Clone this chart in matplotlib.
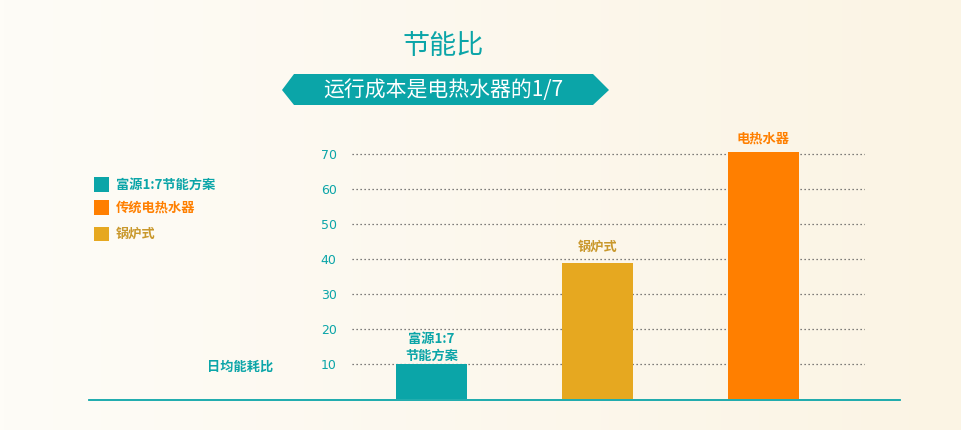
import numpy as np
import matplotlib
matplotlib.use('Agg')
import matplotlib.pyplot as plt
from matplotlib.patches import Polygon
from matplotlib.lines import Line2D

plt.rcParams['font.family'] = ['Noto Sans CJK SC', 'DejaVu Sans']

# data
categories = ['富源1:7\n节能方案', '锅炉式', '电热水器']
values = [10, 39, 70.5]
legend_names = ['富源1:7节能方案', '传统电热水器', '锅炉式']
yticks = [10, 20, 30, 40, 50, 60, 70]

teal = '#0ba5a8'
orange = '#ff7f00'
gold = '#e6a820'
goldtext = '#c9982c'
bar_colors = [teal, gold, orange]
label_colors = [teal, goldtext, orange]
legend_colors = [teal, orange, gold]
legend_text_colors = [teal, orange, goldtext]

W, H = 962, 430
fig = plt.figure(figsize=(W / 100, H / 100), dpi=100)


def px(x, y):
    return (x / W, 1 - y / H)


# cream background gradient
bg = fig.add_axes([0, 0, 1, 1], zorder=-10)
grad = np.linspace(0, 1, 256).reshape(1, -1)
c0 = np.array([254, 252, 247]) / 255
c1 = np.array([251, 244, 228]) / 255
img = c0 + (c1 - c0) * grad[..., None]
bg.imshow(img, aspect='auto', extent=[0, 1, 0, 1])
bg.axis('off')

# main axes
left, right = 352, 865
y0, ytop = 399, 399 - 75 * 3.5
ax = fig.add_axes([left / W, 1 - y0 / H, (right - left) / W, (y0 - ytop) / H])
ax.patch.set_alpha(0)
x = np.arange(len(categories))
ax.bar(x, values, width=0.425, color=bar_colors, zorder=3)
ax.set_xlim((left - 431.5) / 166, (right - 431.5) / 166)
ax.set_ylim(0, 75)
ax.set_yticks(yticks)
ax.set_yticklabels([str(t) for t in yticks], family='DejaVu Sans', fontsize=9, color=teal)
ax.tick_params(axis='y', length=0, pad=11)
ax.set_xticks([])
for s in ax.spines.values():
    s.set_visible(False)
for t in yticks:
    ax.axhline(t, color='#555555', lw=0.9, ls=(0, (1, 2.2)), zorder=1)

pads = [1, 6, 5]
for xi, v, lab, c, p in zip(x, values, categories, label_colors, pads):
    ax.annotate(lab, (xi, v), xytext=(0, p), textcoords='offset points',
                ha='center', va='bottom', fontsize=9.5, color=c,
                fontweight='bold', linespacing=1.25)

# baseline
fig.add_artist(Line2D([89 / W, 900 / W], [1 - 400 / H] * 2, color=teal, lw=1.3))

# title and banner
fig.text(*px(443, 47), '节能比', ha='center', va='center', fontsize=19.5, color=teal)
banner = Polygon([px(282, 90), px(294, 74), px(593, 74), px(609, 90), px(593, 105), px(294, 105)],
                 closed=True, facecolor=teal, edgecolor='none', transform=fig.transFigure)
fig.add_artist(banner)
fig.text(*px(443, 90), '运行成本是电热水器的1/7', ha='center', va='center',
         fontsize=15, color='white')

# legend
legend_y = [184.5, 207.5, 234]
for name, c, tc, ly in zip(legend_names, legend_colors, legend_text_colors, legend_y):
    sq = Polygon([px(94, ly - 7.5), px(109, ly - 7.5), px(109, ly + 7.5), px(94, ly + 7.5)],
                 closed=True, facecolor=c, edgecolor='none', transform=fig.transFigure)
    fig.add_artist(sq)
    fig.text(*px(116, ly), name, ha='left', va='center', fontsize=9.5,
             color=tc, fontweight='bold')

fig.text(*px(240, 367), '日均能耗比', ha='center', va='center', fontsize=9.5,
         color=teal, fontweight='bold')

fig.savefig('out.png', dpi=100)
